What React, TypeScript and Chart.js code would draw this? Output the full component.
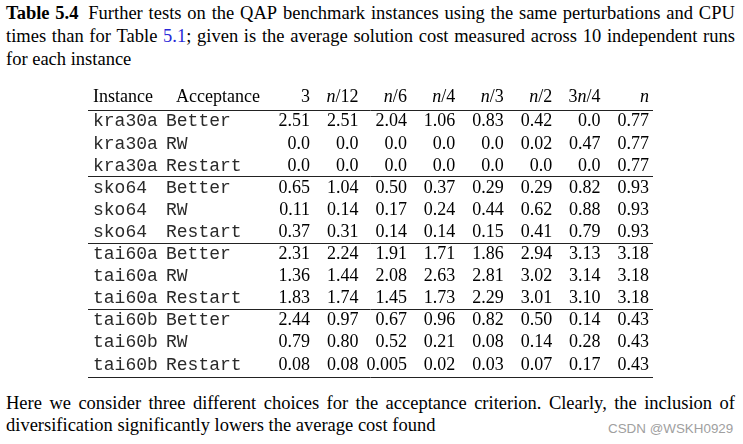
import React, { useEffect, useRef } from "react";
import { Chart, registerables } from "chart.js";

Chart.register(...registerables);

// ---- data ----
const instances = ["kra30a", "sko64", "tai60a", "tai60b"];
const acceptances = ["Better", "RW", "Restart"];
const columns = ["3", "n/12", "n/6", "n/4", "n/3", "n/2", "3n/4", "n"];

const kra30aValues = [
  ["2.51", "2.51", "2.04", "1.06", "0.83", "0.42", "0.0", "0.77"],
  ["0.0", "0.0", "0.0", "0.0", "0.0", "0.02", "0.47", "0.77"],
  ["0.0", "0.0", "0.0", "0.0", "0.0", "0.0", "0.0", "0.77"],
];
const sko64Values = [
  ["0.65", "1.04", "0.50", "0.37", "0.29", "0.29", "0.82", "0.93"],
  ["0.11", "0.14", "0.17", "0.24", "0.44", "0.62", "0.88", "0.93"],
  ["0.37", "0.31", "0.14", "0.14", "0.15", "0.41", "0.79", "0.93"],
];
const tai60aValues = [
  ["2.31", "2.24", "1.91", "1.71", "1.86", "2.94", "3.13", "3.18"],
  ["1.36", "1.44", "2.08", "2.63", "2.81", "3.02", "3.14", "3.18"],
  ["1.83", "1.74", "1.45", "1.73", "2.29", "3.01", "3.10", "3.18"],
];
const tai60bValues = [
  ["2.44", "0.97", "0.67", "0.96", "0.82", "0.50", "0.14", "0.43"],
  ["0.79", "0.80", "0.52", "0.21", "0.08", "0.14", "0.28", "0.43"],
  ["0.08", "0.08", "0.005", "0.02", "0.03", "0.07", "0.17", "0.43"],
];
const instanceValues = [kra30aValues, sko64Values, tai60aValues, tai60bValues];

const captionLine1 = "Further tests on the QAP benchmark instances using the same perturbations and CPU";
const captionLine2 = "given is the average solution cost measured across 10 independent runs";
const captionLine3 = "for each instance";
const footerLine1 = "Here we consider three different choices for the acceptance criterion. Clearly, the inclusion of";
const footerLine2 = "diversification significantly lowers the average cost found";
const watermark = "CSDN @WSKH0929";

// ---- derived ----
const rowKeys: string[] = [];
const rowInstance: string[] = [];
const rowAcceptance: string[] = [];
const rowValues: string[][] = [];
instances.forEach((inst, i) => {
  acceptances.forEach((acc, a) => {
    rowKeys.push(inst + " " + acc);
    rowInstance.push(inst);
    rowAcceptance.push(acc);
    rowValues.push(instanceValues[i][a]);
  });
});

const SERIF = "'Liberation Serif', 'Times New Roman', serif";
const MONO = "'Liberation Mono', 'Courier New', monospace";
const FS = 18;

const tablePlugin = {
  id: "tableText",
  afterDatasetsDraw(chart: any) {
    const ctx = chart.ctx as CanvasRenderingContext2D;
    const area = chart.chartArea;
    const ys = chart.scales.y;
    const colW = (area.right - area.left) / columns.length;
    const base = 6.5;
    ctx.save();
    ctx.fillStyle = "#000";
    ctx.textBaseline = "alphabetic";

    // cells
    chart.data.datasets.forEach((ds: any, di: number) => {
      const meta = chart.getDatasetMeta(di);
      ctx.font = `${FS}px ${SERIF}`;
      ctx.textAlign = "right";
      ctx.fillStyle = "#000";
      meta.data.forEach((pt: any, j: number) => {
        ctx.fillText(ds.cellText[j], pt.x + colW / 2 - 2, pt.y + base);
      });
      const y = ys.getPixelForValue(di) + base;
      ctx.font = `${FS}px ${MONO}`;
      ctx.textAlign = "left";
      ctx.fillStyle = "#2a2a2a";
      ctx.fillText(rowInstance[di], area.left - 170.6, y);
      ctx.fillText(rowAcceptance[di], area.left - 97.6, y);
    });
    ctx.fillStyle = "#000";

    // header
    const hy = ys.getPixelForValue(0) - 24 + base;
    ctx.font = `${FS}px ${SERIF}`;
    ctx.textAlign = "left";
    ctx.fillText("Instance", area.left - 170.6, hy);
    ctx.fillText("Acceptance", area.left - 87.6, hy);
    const xs = chart.scales.x;
    columns.forEach((label, j) => {
      const right = xs.getPixelForValue(j) + colW / 2 - 2;
      const parts = label.split(/(n)/).filter((p) => p.length > 0);
      const fonts = parts.map((p) => (p === "n" ? `italic ${FS}px ${SERIF}` : `${FS}px ${SERIF}`));
      let total = 0;
      const widths = parts.map((p, k) => {
        ctx.font = fonts[k];
        const w = ctx.measureText(p).width;
        total += w;
        return w;
      });
      let x = right - total;
      parts.forEach((p, k) => {
        ctx.font = fonts[k];
        ctx.fillText(p, x, hy);
        x += widths[k];
      });
    });

    // rules
    ctx.strokeStyle = "#222";
    ctx.lineWidth = 1;
    const x0 = area.left - 175.6;
    const x1 = area.right + 2;
    const ruleYs: number[] = [];
    instances.forEach((_, g) => ruleYs.push(ys.getPixelForValue(g * acceptances.length) - 10));
    ruleYs.push(ys.getPixelForValue(rowKeys.length - 1) + 14);
    ruleYs.forEach((ry) => {
      const yy = Math.round(ry) + 0.5;
      ctx.beginPath();
      ctx.moveTo(x0, yy);
      ctx.lineTo(x1, yy);
      ctx.stroke();
    });
    ctx.restore();
  },
};

function JustLine({ words, top, style }: { words: React.ReactNode[]; top: number; style?: any }) {
  return (
    <div
      style={{
        position: "absolute",
        left: 6,
        width: 729,
        top,
        height: 23,
        lineHeight: "23px",
        display: "flex",
        justifyContent: "space-between",
        whiteSpace: "nowrap",
        ...style,
      }}
    >
      {words.map((w, i) => (
        <span key={i}>{w}</span>
      ))}
    </div>
  );
}

export default function App() {
  const ref = useRef<HTMLCanvasElement | null>(null);

  useEffect(() => {
    if (!ref.current) return;
    const datasets = rowKeys.map((key, di) => ({
      label: key,
      data: columns.map((c) => ({ x: c, y: key })),
      cellText: rowValues[di],
      pointRadius: 0,
      pointHoverRadius: 0,
      showLine: false,
    }));
    const chart = new Chart(ref.current, {
      type: "scatter",
      data: { datasets: datasets as any },
      options: {
        responsive: false,
        devicePixelRatio: 1,
        animation: false,
        layout: { padding: { left: 263.6, right: 92, top: 28.95, bottom: 10.95 } },
        scales: {
          x: { type: "category", labels: columns, offset: true, display: false },
          y: { type: "category", labels: rowKeys, offset: true, display: false },
        },
        plugins: { legend: { display: false }, tooltip: { enabled: false } },
      },
      plugins: [tablePlugin],
    });
    return () => chart.destroy();
  }, []);

  const cap1Words: React.ReactNode[] = [
    <b>Table</b>,
    <b style={{ marginRight: 4 }}>5.4</b>,
    ...captionLine1.split(" "),
  ];
  const cap2Words: React.ReactNode[] = [
    ..."times than for Table".split(" "),
    <span>
      <span style={{ color: "rgb(40,40,215)" }}>5.1</span>;
    </span>,
    ...captionLine2.split(" "),
  ];

  return (
    <div
      style={{
        position: "fixed",
        left: 0,
        top: 0,
        width: 743,
        height: 444,
        background: "#fff",
        fontFamily: SERIF,
        fontSize: "18.5px",
        color: "#000",
        overflow: "hidden",
      }}
    >
      <JustLine words={cap1Words} top={2} />
      <JustLine words={cap2Words} top={25} />
      <div style={{ position: "absolute", left: 6, top: 48, lineHeight: "23px", whiteSpace: "nowrap" }}>
        {captionLine3}
      </div>
      <canvas
        ref={ref}
        width={743}
        height={305}
        style={{ position: "absolute", left: 0, top: 80, width: 743, height: 305 }}
      />
      <JustLine words={footerLine1.split(" ")} top={392} />
      <div style={{ position: "absolute", left: 6, top: 414, lineHeight: "23px", whiteSpace: "nowrap" }}>
        {footerLine2}
      </div>
      <div
        style={{
          position: "absolute",
          left: 608,
          top: 421,
          fontFamily: "'Liberation Sans', Arial, sans-serif",
          fontSize: "13.4px",
          lineHeight: "16px",
          color: "#a0a0a0",
          whiteSpace: "nowrap",
        }}
      >
        {watermark}
      </div>
    </div>
  );
}
